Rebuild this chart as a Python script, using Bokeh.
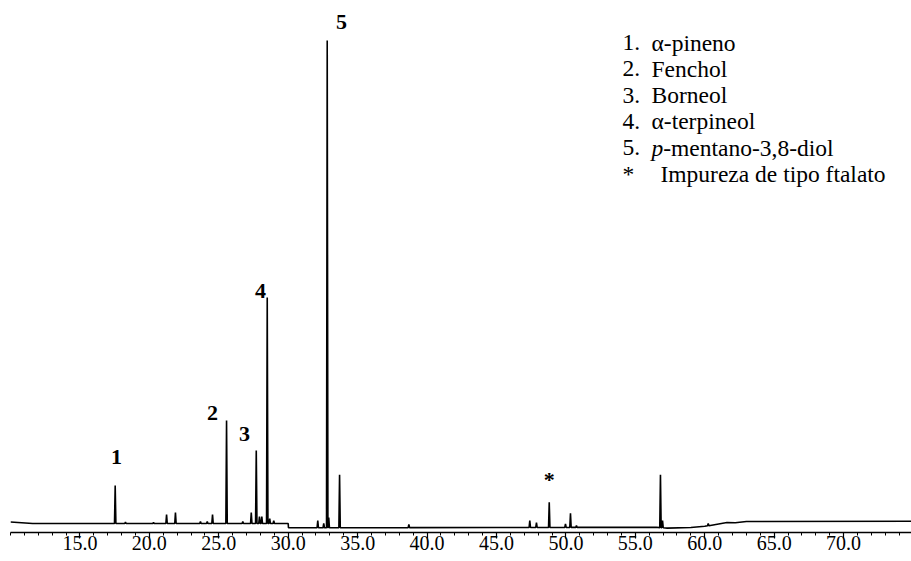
from bokeh.plotting import figure
from bokeh.models import Range1d, Label, FixedTicker, PrintfTickFormatter
from bokeh.embed import file_html
from bokeh.resources import INLINE
import numpy as np

# ---------------- data ----------------
# retention time axis (min)
tick_major = [15, 20, 25, 30, 35, 40, 45, 50, 55, 60, 65, 70]
tick_minor = list(range(10, 75))

# baseline breakpoints (relative intensity, peak 5 = 100)
baseline_time = [10.0, 11.6, 30.0, 30.02, 45.0, 56.5, 57.3, 59.0, 60.0, 61.0, 61.6, 62.2, 63.0, 74.9]
baseline_level = [0.31, 0.0, 0.0, -0.89, -0.83, -0.79, -0.95, -0.83, -0.58, -0.10, 0.21, 0.14, 0.41, 0.46]

# peak apexes
peak_time = [17.54, 18.28, 20.30, 21.24, 21.88, 23.68, 24.17, 24.55, 25.56, 26.73,
             27.34, 27.70, 27.93, 28.10, 28.49, 28.67, 28.96, 32.13, 32.56, 32.81,
             32.92, 33.70, 38.69, 47.40, 47.88, 48.80, 49.97, 50.33, 50.76, 56.81,
             56.96, 60.25]
peak_apex = [7.87, 0.30, 0.20, 1.86, 2.28, 0.41, 0.41, 1.86, 21.3, 0.41,
             2.28, 15.1, 1.45, 1.45, 46.8, 1.00, 0.60, 0.62, 0.00, 100.0,
             1.24, 10.1, -0.20, 0.62, 0.20, 4.41, -0.06, 2.13, -0.41, 10.08,
             0.62, 0.00]

# peak annotations
annot_text = ["1", "2", "3", "4", "5", "*"]
annot_time = [17.63, 24.55, 26.85, 28.00, 33.84, 48.80]
annot_level = [13.8, 22.8, 18.6, 48.2, 103.8, 9.1]

# legend
legend_keys = ["1.", "2.", "3.", "4.", "5.", "*"]
legend_names = ["α-pineno", "Fenchol", "Borneol", "α-terpineol", "-mentano-3,8-diol", "Impureza de tipo ftalato"]
legend_italic_prefix = ["", "", "", "", "p", ""]

# ---------------- geometry helpers ----------------
LEFT_PX = 10
PX_PER_MIN = 13.885
BASE_PX = 523.0
PX_PER_UNIT = 4.83
FRAME_BOTTOM = 532
SERIF = "Liberation Serif"


def t_of(px):
    return 10.0 + (px - LEFT_PX) / PX_PER_MIN


def v_of(py):
    return (BASE_PX - py) / PX_PER_UNIT


# ---------------- build trace ----------------
HW = 0.05
pts = list(zip(baseline_time, baseline_level))
for t, a in zip(peak_time, peak_apex):
    b = float(np.interp(t, baseline_time, baseline_level))
    pts += [(t - HW, b), (t, a), (t + HW, b)]
pts.sort(key=lambda q: q[0])
xs = [q[0] for q in pts]
ys = [q[1] for q in pts]

p = figure(width=911, height=561,
           x_range=Range1d(10.0, t_of(911)),
           y_range=Range1d(v_of(FRAME_BOTTOM), v_of(0)),
           output_backend="svg", toolbar_location=None,
           y_axis_location=None,
           min_border_left=LEFT_PX, min_border_right=0,
           min_border_top=0, min_border_bottom=561 - FRAME_BOTTOM)
p.outline_line_color = None
p.xgrid.visible = False
p.ygrid.visible = False
p.background_fill_color = "white"
p.border_fill_color = "white"

p.line(xs, ys, line_color="black", line_width=1.6)

ax = p.xaxis[0]
ax.ticker = FixedTicker(ticks=tick_major, minor_ticks=tick_minor)
ax.formatter = PrintfTickFormatter(format="%.1f")
ax.axis_line_color = "black"
ax.axis_line_width = 1.5
ax.major_tick_line_color = "black"
ax.minor_tick_line_color = "black"
ax.major_tick_line_width = 1.2
ax.minor_tick_line_width = 1.0
ax.major_tick_in = 0
ax.major_tick_out = 6
ax.minor_tick_in = 0
ax.minor_tick_out = 3
ax.major_label_standoff = -3
ax.major_label_text_font = SERIF
ax.major_label_text_font_size = "20px"
ax.major_label_text_color = "black"

for s, t, v in zip(annot_text, annot_time, annot_level):
    p.add_layout(Label(x=t, y=v, text=s, text_align="center", text_baseline="alphabetic",
                       text_font=SERIF, text_font_size="22px",
                       text_font_style="bold", text_color="black"))

LEG_KEY_PX = 622
LEG_NAME_PX = [651, 651, 651, 651, 651, 660]
LEG_BASE0 = 42.0
LEG_STEP = 26.3
LEG_FS = 23.5
for i, (k, n, it) in enumerate(zip(legend_keys, legend_names, legend_italic_prefix)):
    yb = v_of(LEG_BASE0 + i * LEG_STEP)
    p.add_layout(Label(x=t_of(LEG_KEY_PX), y=yb, text=k, text_align="left", text_baseline="alphabetic",
                       text_font=SERIF, text_font_size=f"{LEG_FS}px", text_color="black"))
    xname = LEG_NAME_PX[i]
    if it:
        p.add_layout(Label(x=t_of(xname), y=yb, text=it, text_align="left", text_baseline="alphabetic",
                           text_font=SERIF, text_font_size=f"{LEG_FS}px",
                           text_font_style="italic", text_color="black"))
        xname += LEG_FS * 0.5
    p.add_layout(Label(x=t_of(xname), y=yb, text=n, text_align="left", text_baseline="alphabetic",
                       text_font=SERIF, text_font_size=f"{LEG_FS}px", text_color="black"))

open("out.html", "w").write(file_html(p, INLINE))
